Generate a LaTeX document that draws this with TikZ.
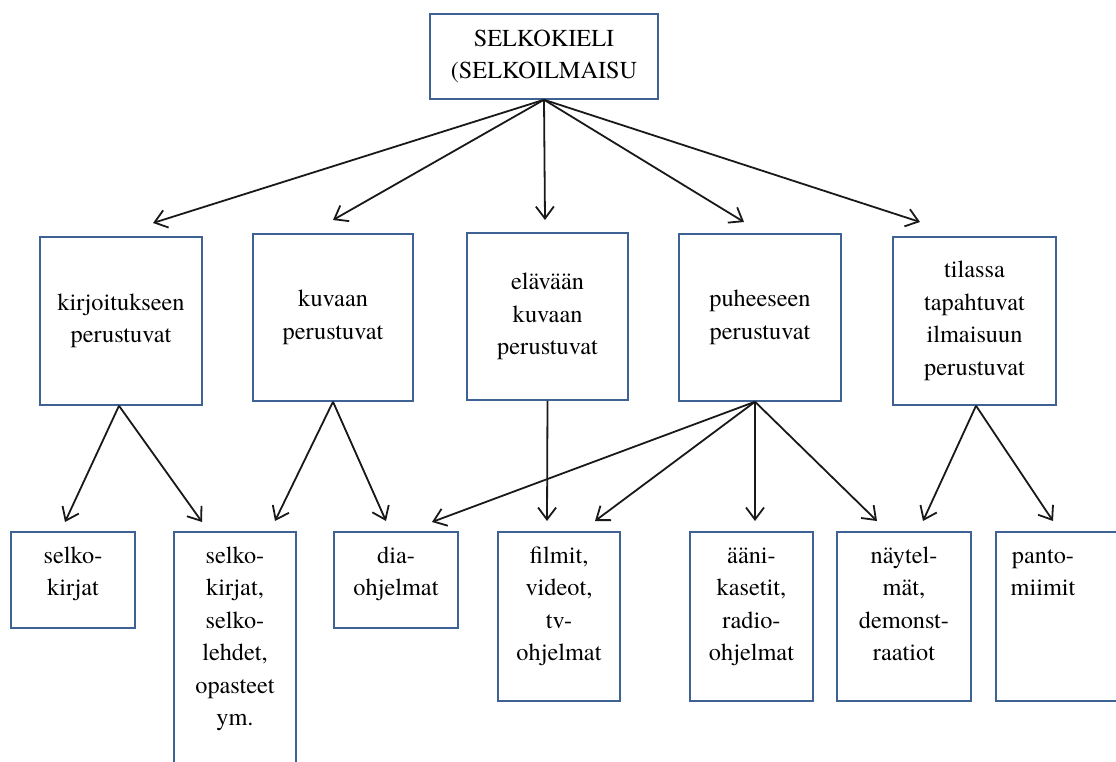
\documentclass[tikz,border=0pt]{standalone}
\usepackage{fontspec}
\setmainfont{texgyretermes-regular.otf}
\newfontfamily\tnr{texgyretermes-regular.otf}
\usetikzlibrary{arrows.meta}
\definecolor{boxblue}{RGB}{62,98,148}
\definecolor{linegray}{RGB}{25,25,25}
\begin{document}
\begin{tikzpicture}[x=1pt,y=-1pt,
  box/.style={draw=boxblue, line width=1.5pt, inner sep=0pt, align=center,
    font=\tnr\fontsize{24.3}{32.5}\selectfont},
  txt/.style={inner sep=0pt, align=center, anchor=north,
    font=\tnr\fontsize{24.3}{32.5}\selectfont},
  conn/.style={draw=linegray, line width=1.8pt,
    -{Straight Barb[length=12pt,width=18pt,line width=1.8pt]}}
]
\useasboundingbox (0,0) rectangle (1116,762);
\clip (0,0) rectangle (1116,762);
% top
\node[box, minimum width=228pt, minimum height=85pt] (top) at (544,56.5) {SELKOKIELI\\(SELKOILMAISU};
% middle row
\node[box, minimum width=162pt, minimum height=168pt] (A) at (121,321) {kirjoitukseen\\perustuvat};
\node[box, minimum width=160pt, minimum height=167pt] (B) at (333,317.5) {kuvaan\\perustuvat};
\node[box, minimum width=161pt, minimum height=167pt] (C) at (547.5,316.5) {elävään\\kuvaan\\perustuvat};
\node[box, minimum width=162pt, minimum height=167pt] (D) at (760,317.5) {puheeseen\\perustuvat};
\node[box, minimum width=163pt, minimum height=168pt] (E) at (974.5,321) {tilassa\\tapahtuvat\\ilmaisuun\\perustuvat};
% bottom row boxes
\node[box, minimum width=124pt, minimum height=96pt] (b1) at (73,580) {};
\node[box, minimum width=122pt, minimum height=260pt] (b2) at (235,662) {};
\node[box, minimum width=124pt, minimum height=96pt] (b3) at (396,580) {};
\node[box, minimum width=122pt, minimum height=169pt] (b4) at (559,616.5) {};
\node[box, minimum width=123pt, minimum height=169pt] (b5) at (751.5,616.5) {};
\node[box, minimum width=134pt, minimum height=169pt] (b6) at (904,616.5) {};
\node[box, minimum width=134pt, minimum height=169pt] (b7) at (1063,616.5) {};
% bottom row texts
\node[txt] (t1) at (73,540.5) {\strut selko-\\kirjat};
\node[txt] (t2) at (235,540.5) {\strut selko-\\kirjat,\\selko-\\lehdet,\\opasteet\\ym.};
\node[txt] (t3) at (396,540.5) {\strut dia-\\ohjelmat};
\node[txt] (t4) at (559,540.5) {\strut filmit,\\videot,\\tv-\\ohjelmat};
\node[txt] (t5) at (751.5,540.5) {\strut ääni-\\kasetit,\\radio-\\ohjelmat};
\node[txt] (t6) at (904,540.5) {\strut näytel-\\mät,\\demonst-\\raatiot};
\node[txt] (t7) at (1043,540.5) {\strut panto-\\miimit};
% arrow end points
\coordinate (eA) at (153,223);
\coordinate (eB) at (333,220);
\coordinate (eC) at (545,220);
\coordinate (eD) at (744,222);
\coordinate (eE) at (920,222);
\coordinate (a1) at (65,522);
\coordinate (a2) at (202,522);
\coordinate (k1) at (275,521);
\coordinate (k2) at (386,521);
\coordinate (c1) at (547,521);
\coordinate (d1) at (432,522);
\coordinate (d2) at (595,521);
\coordinate (d3) at (755,521);
\coordinate (d4) at (877,521);
\coordinate (e1) at (923,521);
\coordinate (e2) at (1053,521);
% connectors
\foreach \t in {eA,eB,eC,eD,eE} \draw[conn] (top.south) -- (\t);
\foreach \t in {a1,a2} \draw[conn] ([xshift=-2pt]A.south) -- (\t);
\foreach \t in {k1,k2} \draw[conn] (B.south) -- (\t);
\draw[conn] (C.south) -- (c1);
\foreach \t in {d1,d2,d3,d4} \draw[conn] ([xshift=-5pt]D.south) -- (\t);
\foreach \t in {e1,e2} \draw[conn] ([xshift=1.5pt]E.south) -- (\t);
\end{tikzpicture}
\end{document}
